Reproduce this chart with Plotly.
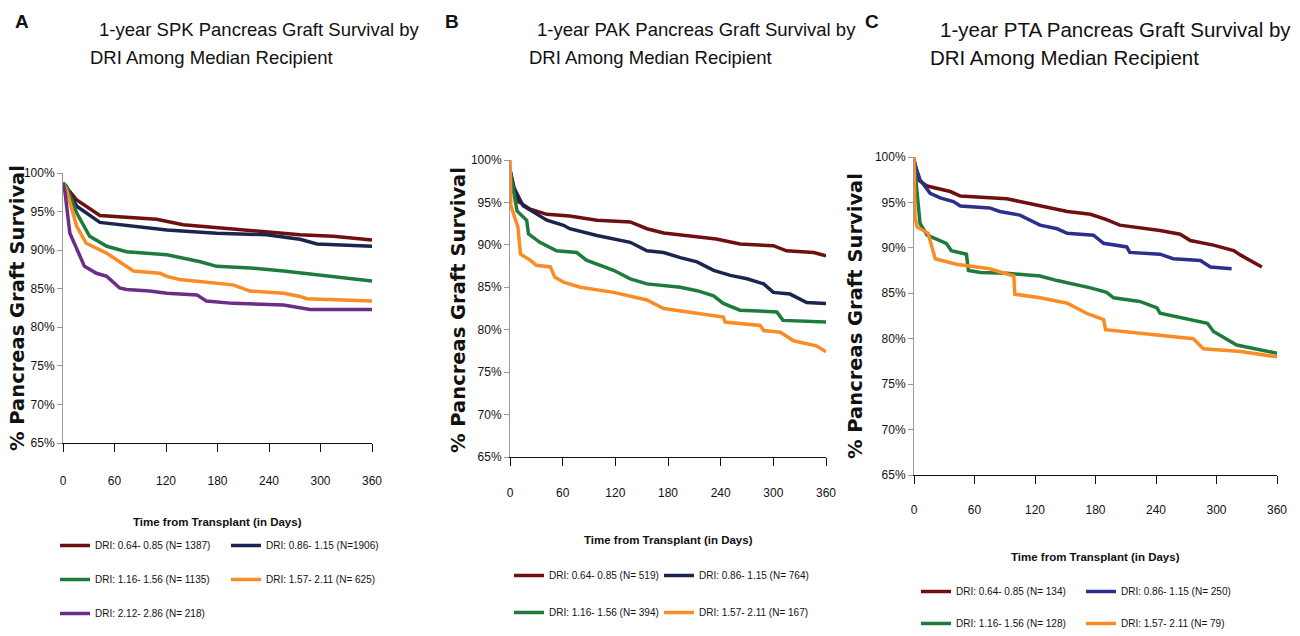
import plotly.graph_objects as go

# ---------------- data ----------------
COLORS = ["#6e1010", "#1b2550", "#1f7b3d", "#fb8c25", "#6b2d88"]
COLORS_C = ["#6e1010", "#2d2f8c", "#1f7b3d", "#fb8c25"]

X_TICKS = [0, 60, 120, 180, 240, 300, 360]
Y_TICKS = [65, 70, 75, 80, 85, 90, 95, 100]

# Panel A: SPK
SPK_LABELS = ["DRI: 0.64- 0.85 (N= 1387)", "DRI: 0.86- 1.15 (N=1906)",
              "DRI: 1.16- 1.56 (N= 1135)", "DRI: 1.57- 2.11 (N= 625)",
              "DRI: 2.12- 2.86 (N= 218)"]
SPK_D1 = [0, 16, 43, 109, 140, 179, 237, 276, 315, 360]
SPK_S1 = [98.7, 96.5, 94.5, 94.0, 93.3, 92.9, 92.4, 92.0, 91.8, 91.3]
SPK_D2 = [0, 16, 43, 82, 121, 179, 237, 276, 296, 360]
SPK_S2 = [98.7, 95.7, 93.6, 93.1, 92.6, 92.2, 92.0, 91.4, 90.8, 90.5]
SPK_D3 = [0, 4, 16, 31, 51, 74, 121, 160, 179, 218, 257, 296, 335, 360]
SPK_S3 = [98.7, 98.3, 94.8, 91.8, 90.5, 89.8, 89.4, 88.5, 87.9, 87.7, 87.3, 86.8, 86.4, 86.0]
SPK_D4 = [0, 4, 16, 27, 51, 74, 82, 113, 121, 136, 179, 198, 218, 257, 276, 284, 360]
SPK_S4 = [98.7, 97.8, 93.1, 90.9, 89.6, 87.9, 87.3, 87.0, 86.6, 86.2, 85.7, 85.5, 84.7, 84.4, 84.0, 83.7, 83.4]
SPK_D5 = [0, 2, 8, 25, 39, 51, 66, 74, 101, 121, 156, 167, 198, 257, 288, 360]
SPK_S5 = [98.7, 97.8, 92.2, 87.9, 87.0, 86.6, 85.1, 84.9, 84.7, 84.4, 84.2, 83.4, 83.1, 82.9, 82.3, 82.3]

# Panel B: PAK
PAK_LABELS = ["DRI: 0.64- 0.85 (N= 519)", "DRI: 0.86- 1.15 (N= 764)",
              "DRI: 1.16- 1.56 (N= 394)", "DRI: 1.57- 2.11 (N= 167)"]
PAK_D1 = [0, 8, 23, 42, 68, 91, 99, 137, 156, 175, 213, 235, 262, 300, 315, 346, 360]
PAK_S1 = [98.8, 95.2, 94.2, 93.6, 93.4, 93.1, 92.9, 92.7, 91.9, 91.4, 91.0, 90.7, 90.1, 89.9, 89.3, 89.1, 88.7]
PAK_D2 = [0, 4, 15, 42, 61, 68, 99, 118, 137, 156, 175, 194, 213, 232, 251, 270, 289, 300, 319, 338, 360]
PAK_S2 = [98.8, 96.8, 94.6, 92.9, 92.3, 91.9, 91.1, 90.7, 90.3, 89.3, 89.1, 88.5, 88.0, 87.0, 86.4, 86.0, 85.4, 84.4, 84.2, 83.2, 83.1]
PAK_D3 = [0, 2, 8, 19, 21, 34, 53, 76, 87, 118, 137, 156, 194, 213, 232, 243, 262, 304, 311, 360]
PAK_S3 = [98.8, 97.6, 94.0, 92.9, 91.3, 90.3, 89.3, 89.1, 88.2, 87.0, 86.0, 85.4, 85.0, 84.6, 84.0, 83.1, 82.3, 82.1, 81.1, 80.9]
PAK_D4 = [0, 1, 9, 12, 23, 30, 46, 51, 61, 80, 118, 156, 175, 213, 243, 245, 285, 289, 308, 323, 349, 360]
PAK_S4 = [100, 94.6, 92.1, 88.9, 88.2, 87.6, 87.4, 86.2, 85.6, 85.0, 84.4, 83.5, 82.5, 81.9, 81.5, 80.9, 80.5, 79.9, 79.7, 78.7, 78.1, 77.4]

# Panel C: PTA
PTA_LABELS = ["DRI: 0.64- 0.85 (N= 134)", "DRI: 0.86- 1.15 (N= 250)",
              "DRI: 1.16- 1.56 (N= 128)", "DRI: 1.57- 2.11 (N= 79)"]
PTA_D1 = [0, 4, 13, 26, 36, 46, 66, 92, 105, 125, 152, 175, 191, 204, 224, 244, 264, 274, 297, 317, 324, 345]
PTA_S1 = [99.8, 97.5, 96.8, 96.5, 96.2, 95.7, 95.6, 95.4, 95.1, 94.6, 94.0, 93.7, 93.1, 92.5, 92.2, 91.9, 91.5, 90.8, 90.3, 89.7, 89.2, 87.9]
PTA_D2 = [0, 6, 16, 26, 39, 46, 75, 85, 105, 125, 142, 152, 178, 188, 211, 214, 244, 257, 284, 294, 315]
PTA_S2 = [99.5, 97.5, 96.0, 95.5, 95.1, 94.6, 94.4, 94.0, 93.6, 92.5, 92.1, 91.6, 91.4, 90.5, 90.1, 89.5, 89.3, 88.8, 88.6, 87.9, 87.7]
PTA_D3 = [0, 6, 13, 26, 32, 37, 52, 54, 66, 92, 125, 142, 175, 191, 198, 224, 241, 244, 274, 291, 297, 320, 360]
PTA_S3 = [99.6, 92.7, 91.4, 90.8, 90.5, 89.7, 89.3, 87.5, 87.3, 87.2, 86.9, 86.4, 85.6, 85.1, 84.5, 84.1, 83.4, 82.8, 82.1, 81.7, 80.8, 79.3, 78.4]
PTA_D4 = [0, 1, 3, 14, 21, 42, 75, 99, 100, 125, 152, 171, 188, 190, 224, 257, 277, 287, 324, 360]
PTA_S4 = [100, 93.4, 92.3, 91.6, 88.8, 88.2, 87.7, 86.9, 84.9, 84.5, 83.9, 82.8, 82.1, 81.0, 80.6, 80.2, 80.0, 78.9, 78.6, 78.0]

TITLES = [("1-year SPK Pancreas Graft Survival by", "DRI Among Median Recipient"),
          ("1-year PAK Pancreas Graft Survival by", "DRI Among Median Recipient"),
          ("1-year PTA Pancreas Graft Survival by", "DRI Among Median Recipient")]
LETTERS = ["A", "B", "C"]
X_TITLE = "Time from Transplant (in Days)"
Y_TITLE = "% Pancreas Graft Survival"

# ---------------- layout helpers ----------------
W, H = 1300, 636
NARROW = "Liberation Sans, Arial, sans-serif"
WIDE_BOLD = "DejaVu Sans, Verdana, sans-serif"


def fx(p):
    return p / W


def fy(p):
    return 1 - p / H


panels = [
    dict(labels=SPK_LABELS, days=[SPK_D1, SPK_D2, SPK_D3, SPK_D4, SPK_D5],
         surv=[SPK_S1, SPK_S2, SPK_S3, SPK_S4, SPK_S5], colors=COLORS,
         box=(63, 372, 173, 443), letter=(13, 22), t1=(97, 30), t2=(88, 58), tsize=18.5,
         xt=(217, 522), yt=(17, 308), leg=[(55, 531), (226, 531)], gap=15, stand=18),
    dict(labels=PAK_LABELS, days=[PAK_D1, PAK_D2, PAK_D3, PAK_D4],
         surv=[PAK_S1, PAK_S2, PAK_S3, PAK_S4], colors=COLORS,
         box=(510, 826, 160, 457), letter=(443, 22), t1=(535, 30), t2=(527, 58), tsize=18.5,
         xt=(668, 540), yt=(458, 310), leg=[(509, 561), (659, 561)], gap=18, stand=16),
    dict(labels=PTA_LABELS, days=[PTA_D1, PTA_D2, PTA_D3, PTA_D4],
         surv=[PTA_S1, PTA_S2, PTA_S3, PTA_S4], colors=COLORS_C,
         box=(914, 1277, 157, 475), letter=(863, 22), t1=(938, 30), t2=(928, 58), tsize=20.5,
         xt=(1095, 557), yt=(855, 316), leg=[(916, 577), (1081, 577)], gap=13, stand=15),
]

fig = go.Figure()
annotations = []
layout = {}
leg_idx = 0
for i, p in enumerate(panels):
    sfx = "" if i == 0 else str(i + 1)
    x0, x1, y0, y1 = p["box"]
    legs = []
    for c in range(2):
        leg_idx += 1
        lname = "legend" if leg_idx == 1 else "legend%d" % leg_idx
        legs.append(lname)
        lx, ly = p["leg"][c]
        layout[lname] = dict(x=fx(lx), y=fy(ly), xanchor="left", yanchor="top",
                             orientation="v", bgcolor="rgba(0,0,0,0)",
                             font=dict(family=NARROW, size=10, color="#111"),
                             tracegroupgap=p["gap"], itemwidth=30)
    for k, (d, s) in enumerate(zip(p["days"], p["surv"])):
        fig.add_trace(go.Scatter(
            x=d, y=s, mode="lines", name=p["labels"][k],
            line=dict(color=p["colors"][k], width=3.5),
            xaxis="x" + sfx, yaxis="y" + sfx,
            legend=legs[k % 2], legendgroup="g%d_%d" % (i, k),
            hoverinfo="skip"))
    layout["xaxis" + sfx] = dict(
        domain=[fx(x0), fx(x1)], range=[0, 360], anchor="y" + sfx, automargin=False,
        tickvals=X_TICKS, ticktext=[str(v) for v in X_TICKS],
        showline=True, linecolor="#111", linewidth=1.2,
        ticks="outside", ticklen=8, tickcolor="#111", ticklabelstandoff=p["stand"],
        tickfont=dict(family=NARROW, size=12, color="#111"),
        showgrid=False, zeroline=False)
    layout["yaxis" + sfx] = dict(
        domain=[fy(y1), fy(y0)], range=[65, 100], anchor="x" + sfx, automargin=False,
        tickvals=Y_TICKS, ticktext=["%d%%" % v for v in Y_TICKS],
        showline=True, linecolor="#999", linewidth=1,
        ticks="outside", ticklen=5, tickcolor="#999",
        tickfont=dict(family=NARROW, size=12, color="#111"),
        showgrid=False, zeroline=False)
    annotations.append(dict(text="<b>%s</b>" % LETTERS[i], x=fx(p["letter"][0]), y=fy(p["letter"][1]),
                            xref="paper", yref="paper", xanchor="left", yanchor="middle",
                            showarrow=False, font=dict(family="Liberation Sans, Arial, sans-serif", size=19, color="#111")))
    for t, pos in zip(TITLES[i], (p["t1"], p["t2"])):
        annotations.append(dict(text=t, x=fx(pos[0]), y=fy(pos[1]), xref="paper", yref="paper",
                                xanchor="left", yanchor="middle", showarrow=False,
                                font=dict(family=NARROW, size=p["tsize"], color="#111")))
    annotations.append(dict(text="<b>%s</b>" % X_TITLE, x=fx(p["xt"][0]), y=fy(p["xt"][1]),
                            xref="paper", yref="paper", xanchor="center", yanchor="middle",
                            showarrow=False, font=dict(family=NARROW, size=11.5, color="#111")))
    annotations.append(dict(text="<b>%s</b>" % Y_TITLE, x=fx(p["yt"][0]), y=fy(p["yt"][1]),
                            xref="paper", yref="paper", xanchor="center", yanchor="middle",
                            textangle=-90, showarrow=False,
                            font=dict(family=WIDE_BOLD, size=19.5, color="#111")))

fig.update_layout(width=W, height=H, margin=dict(l=0, r=0, t=0, b=0, autoexpand=False),
                  paper_bgcolor="white", plot_bgcolor="white",
                  showlegend=True, annotations=annotations, **layout)

fig.write_html("out.html", config={"displayModeBar": False},
               post_script="document.body.style.margin='0';")
